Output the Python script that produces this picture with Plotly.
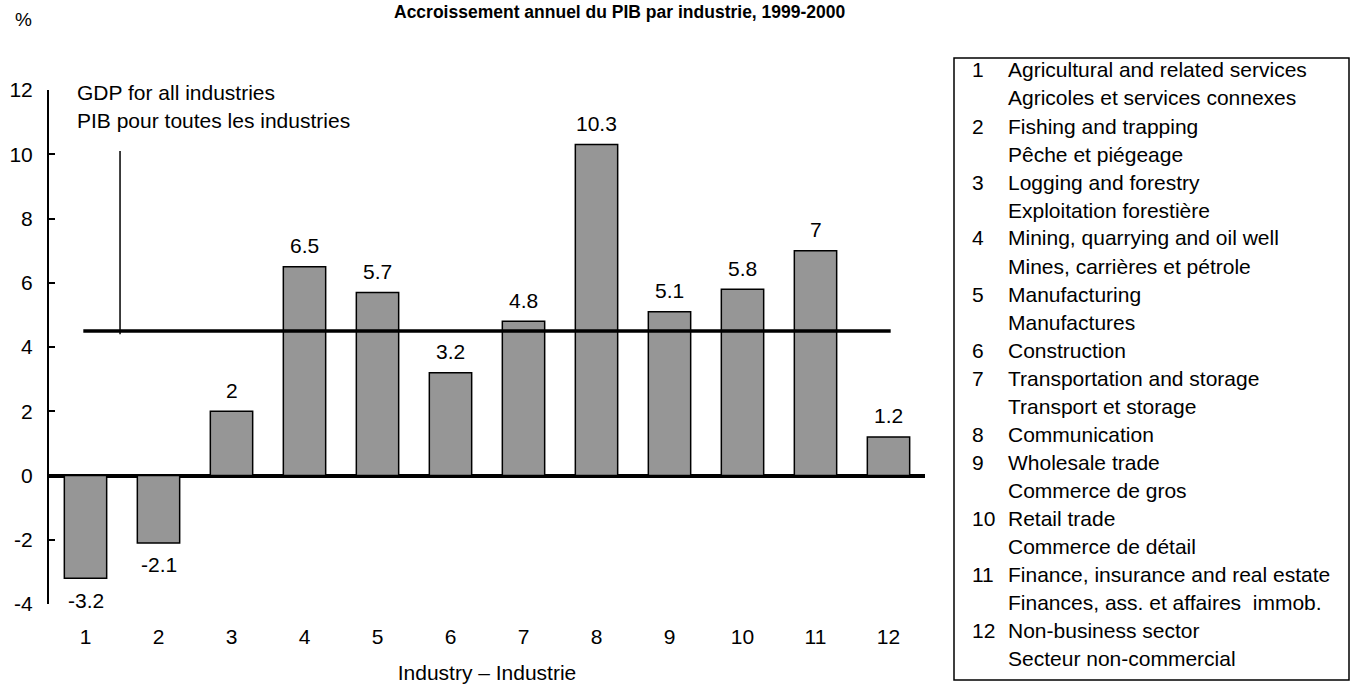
import plotly.graph_objects as go

# Data
industries = [1, 2, 3, 4, 5, 6, 7, 8, 9, 10, 11, 12]
growth = [-3.2, -2.1, 2, 6.5, 5.7, 3.2, 4.8, 10.3, 5.1, 5.8, 7, 1.2]
gdp_all = 4.5

ytick_vals = [-4, -2, 0, 2, 4, 6, 8, 10, 12]

industry_en = ['Agricultural and related services', 'Fishing and trapping',
               'Logging and forestry', 'Mining, quarrying and oil well',
               'Manufacturing', 'Construction', 'Transportation and storage',
               'Communication', 'Wholesale trade', 'Retail trade',
               'Finance, insurance and real estate', 'Non-business sector']
industry_fr = ['Agricoles et services connexes', 'Pêche et piégeage',
               'Exploitation forestière', 'Mines, carrières et pétrole',
               'Manufactures', None, 'Transport et storage', None,
               'Commerce de gros', 'Commerce de détail',
               'Finances, ass. et affaires  immob.', 'Secteur non-commercial']

W, H = 1351, 685
FONT = 'Liberation Sans, Arial, sans-serif'

def px_x(x):
    return x / W

def px_y(y):
    return 1 - y / H

fig = go.Figure()

fig.add_trace(go.Bar(
    x=industries,
    y=growth,
    width=0.58,
    marker=dict(color='#969696', line=dict(color='black', width=1.5)),
    showlegend=False,
    hoverinfo='x+y',
))

# value labels, hyphen minus like the original
for ind, val in zip(industries, growth):
    fig.add_annotation(x=ind, y=val, xref='x', yref='y', text=str(val),
                       showarrow=False, yanchor='middle',
                       yshift=21 if val >= 0 else -22,
                       font=dict(size=21))

# GDP for all industries reference line
fig.add_shape(type='line', xref='x', yref='y',
              x0=industries[0] - 0.03, x1=industries[-1] + 0.03,
              y0=gdp_all, y1=gdp_all,
              line=dict(color='black', width=3.5))
# pointer from the label down to the line
fig.add_shape(type='line', xref='x', yref='y',
              x0=1.473, x1=1.473, y0=gdp_all - 0.1, y1=10.1,
              line=dict(color='black', width=1.5))

fig.add_annotation(x=px_x(75), y=px_y(92), xref='paper', yref='paper',
                   text='GDP for all industries', showarrow=False,
                   xanchor='left', yanchor='middle', font=dict(size=21))
fig.add_annotation(x=px_x(75), y=px_y(120), xref='paper', yref='paper',
                   text='PIB pour toutes les industries', showarrow=False,
                   xanchor='left', yanchor='middle', font=dict(size=21))

# Title and unit
fig.add_annotation(x=px_x(620), y=px_y(12), xref='paper', yref='paper',
                   text='<b>Accroissement annuel du PIB par industrie, 1999-2000</b>',
                   showarrow=False, xanchor='center', yanchor='middle',
                   font=dict(size=17.5))
fig.add_annotation(x=px_x(13), y=px_y(20), xref='paper', yref='paper',
                   text='%', showarrow=False, xanchor='left', yanchor='middle',
                   font=dict(size=19))

# Legend box with the industry key
fig.add_shape(type='rect', xref='paper', yref='paper',
              x0=px_x(954), x1=px_x(1349), y0=px_y(58), y1=px_y(680),
              line=dict(color='black', width=1.5))

line_y = 70
step = 28.0
for num, en, fr in zip(industries, industry_en, industry_fr):
    fig.add_annotation(x=px_x(970), y=px_y(line_y), xref='paper', yref='paper',
                       text=str(num), showarrow=False, xanchor='left',
                       yanchor='middle', font=dict(size=21))
    fig.add_annotation(x=px_x(1006), y=px_y(line_y), xref='paper', yref='paper',
                       text=en, showarrow=False, xanchor='left',
                       yanchor='middle', font=dict(size=21))
    line_y += step
    if fr:
        fig.add_annotation(x=px_x(1006), y=px_y(line_y), xref='paper', yref='paper',
                           text=fr, showarrow=False, xanchor='left',
                           yanchor='middle', font=dict(size=21))
        line_y += step

fig.update_layout(
    width=W, height=H,
    margin=dict(l=0, r=0, t=0, b=0, pad=0, autoexpand=False),
    plot_bgcolor='white', paper_bgcolor='white',
    font=dict(family=FONT, size=21, color='black'),
)
fig.update_xaxes(
    domain=[px_x(49), px_x(925)],
    range=[0.5, 12.5],
    tickmode='array', tickvals=industries,
    showline=False, showgrid=False, zeroline=False, ticks='',
    tickfont=dict(size=21),
    ticklabelstandoff=18,
    title=dict(text='Industry \u2013 Industrie', font=dict(size=21), standoff=18),
    automargin=False,
    fixedrange=True,
)
fig.update_yaxes(
    domain=[px_y(604), px_y(90)],
    range=[-4, 12],
    tickmode='array', tickvals=ytick_vals,
    ticktext=[str(v) for v in ytick_vals],
    showline=True, linecolor='black', linewidth=2,
    ticks='inside', ticklen=6, tickwidth=2, tickcolor='black',
    showgrid=False,
    zeroline=True, zerolinecolor='black', zerolinewidth=3.5,
    tickfont=dict(size=21),
    ticklabelstandoff=10,
    automargin=False,
    fixedrange=True,
)

fig.write_html('out.html', config={'displayModeBar': False},
               post_script="document.body.style.margin='0';")
